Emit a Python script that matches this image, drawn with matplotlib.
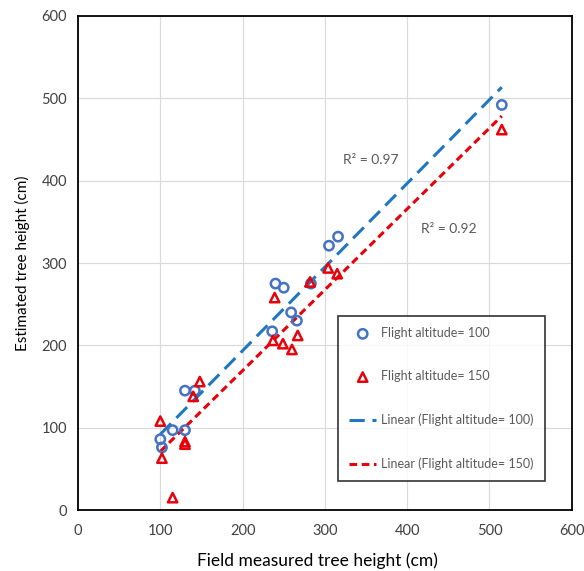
import numpy as np
import matplotlib.pyplot as plt

# field measured vs estimated tree height (cm)
field_100 = [100, 102, 115, 130, 130, 142, 236, 240, 250, 259, 266, 283, 305, 316, 515]
est_100 = [86, 76, 97, 97, 145, 145, 217, 275, 270, 240, 230, 275, 321, 332, 492]

field_150 = [100, 102, 115, 130, 130, 140, 148, 237, 239, 249, 260, 267, 282, 304, 315, 515]
est_150 = [108, 63, 15, 80, 83, 138, 156, 206, 258, 202, 195, 212, 277, 294, 287, 462]

r2_labels = ["R\u00b2 = 0.97", "R\u00b2 = 0.92"]

blue_pt = '#4472C4'
blue_ln = '#1F77C0'
red = '#E8000B'
gray = '#595959'

plt.rcParams['font.family'] = ['Lato', 'DejaVu Sans']

fig = plt.figure(figsize=(5.84, 5.71), dpi=100)
ax = fig.add_axes([0.1336, 0.1068, 0.979 - 0.1336, 0.972 - 0.1068])

ax.scatter(field_100, est_100, s=45, facecolors='none', edgecolors=blue_pt,
           linewidths=1.8, marker='o', zorder=3, label='Flight altitude= 100')
ax.scatter(field_150, est_150, s=45, facecolors='none', edgecolors=red,
           linewidths=1.8, marker='^', zorder=3, label='Flight altitude= 150')

# linear trend lines over the data range
for xs, ys, col, dash, lab in [
        (field_100, est_100, blue_ln, (0, (5, 2.5)), 'Linear (Flight altitude= 100)'),
        (field_150, est_150, red, (0, (2.5, 1.5)), 'Linear (Flight altitude= 150)')]:
    k, b = np.polyfit(xs, ys, 1)
    xx = np.array([min(xs), max(xs)])
    ax.plot(xx, k * xx + b, color=col, lw=2.2, linestyle=dash, label=lab, zorder=2)

ax.text(322, 425, r2_labels[0], color=gray, fontsize=10, va='center')
ax.text(417, 341, r2_labels[1], color=gray, fontsize=10, va='center')

ax.set_xlim(0, 600)
ax.set_ylim(0, 600)
ax.set_xticks(range(0, 601, 100))
ax.set_yticks(range(0, 601, 100))
ax.grid(True, color='#D9D9D9', lw=0.8)
ax.set_axisbelow(True)
for sp in ax.spines.values():
    sp.set_color('black')
    sp.set_linewidth(1.3)
ax.tick_params(length=0, labelsize=10.5, colors='#404040', pad=8)
ax.tick_params(axis='x', pad=10)

ax.set_xlabel('Field measured tree height (cm)', fontsize=12.5, color='black')
ax.xaxis.set_label_coords(0.484, -0.085)
ax.set_ylabel('Estimated tree height (cm)', fontsize=11, color='black', labelpad=8)

leg = ax.legend(loc='upper left', bbox_to_anchor=(0.526, 0.393), frameon=True,
                fancybox=False, edgecolor='black', fontsize=9, labelspacing=2.5,
                borderpad=0.9, borderaxespad=0, handlelength=2.2, handletextpad=0.4)
leg.get_frame().set_linewidth(1.2)
for t in leg.get_texts():
    t.set_color(gray)

fig.savefig('out.png', dpi=100)
